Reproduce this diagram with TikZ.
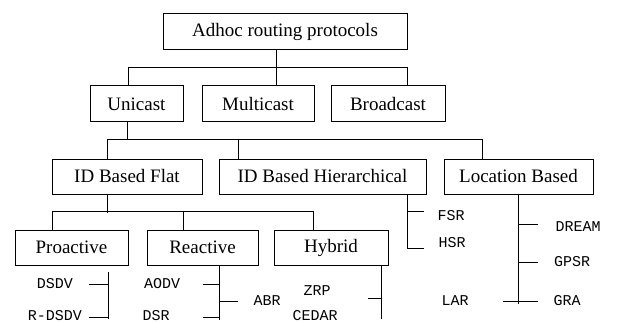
\documentclass[tikz,border=0pt]{standalone}
\usepackage{fontspec}
\setmainfont{Liberation Serif}
\newfontfamily\leaffont{Liberation Mono}
\usepackage{tikz}

\begin{document}
\begin{tikzpicture}[x=1pt, y=-1pt, line width=1pt,
    box/.style={draw, rectangle, minimum height=36pt, inner sep=0pt, font=\fontsize{19}{19}\selectfont},
    leaf/.style={inner sep=0pt, font=\leaffont\fontsize{15}{15}\selectfont}]
        \useasboundingbox (0, 0) rectangle (617, 323);
        % boxes
        \node[box, minimum width=244pt] (root) at (285, 31.5) {Adhoc routing protocols};
        \node[box, minimum width=93pt] (uni) at (136.5, 104) {Unicast};
        \node[box, minimum width=112pt] (multi) at (258, 104) {Multicast};
        \node[box, minimum width=114pt] (broad) at (388, 104) {Broadcast};
        \node[box, minimum width=150pt, minimum height=35pt] (flat) at (127, 176.5) {ID Based Flat};
        \node[box, minimum width=207pt, minimum height=35pt] (hier) at (322.5, 176.5) {ID Based Hierarchical};
        \node[box, minimum width=149pt, minimum height=35pt] (loc) at (518.5, 176.5) {Location Based};
        \node[box, minimum width=113pt, minimum height=35pt] (pro) at (71.5, 247.5) {Proactive};
        \node[box, minimum width=111pt, minimum height=35pt] (rea) at (202.5, 247.5) {Reactive};
        \node[box, minimum width=114pt, minimum height=35pt] (hyb) at (331, 247.5) {Hybrid};
        % tree
        \draw ([xshift=-9pt]root.south) -- ++(0, 18);
        \draw ([xshift=-8.5pt]uni.north) -- ++(0, -18) -| ([xshift=19pt]broad.north);
        \draw ([xshift=18pt]multi.north) -- ++(0, -18);
        \draw ([xshift=-9.5pt]uni.south) -- ++(0, 18);
        \draw ([xshift=-20pt]flat.north) -- ++(0, -19) -| ([xshift=-36.5pt]loc.north);
        \draw ([xshift=-84.5pt]hier.north) -- ++(0, -19);
        \draw ([xshift=-20pt]flat.south) -- ++(0, 18);
        \draw ([xshift=-19.5pt]pro.north) -- ++(0, -18) -| ([xshift=-18pt]hyb.north);
        \draw ([xshift=-19.5pt]rea.north) -- ++(0, -18);
        % leaves
        \node[leaf] (dsdv) at (55, 284) {DSDV};
        \node[leaf] (rdsdv) at (55, 316) {R-DSDV};
        \node[leaf] (aodv) at (162, 284) {AODV};
        \node[leaf] (dsr) at (156, 316) {DSR};
        \node[leaf] (abr) at (267, 301) {ABR};
        \node[leaf] (zrp) at (317, 291) {ZRP};
        \node[leaf] (cedar) at (315, 316) {CEDAR};
        \node[leaf] (fsr) at (451, 216) {FSR};
        \node[leaf] (hsr) at (452, 243) {HSR};
        \node[leaf] (dream) at (578, 227) {DREAM};
        \node[leaf] (gpsr) at (572, 262) {GPSR};
        \node[leaf] (gra) at (567, 301) {GRA};
        \node[leaf] (lar) at (455, 301) {LAR};
        % Proactive
        \coordinate (ps) at (108, 272);
        \draw (ps) -- ++(0, 47);
        \draw (ps |- dsdv) -- ++(-19, 0);
        \draw ([yshift=-1pt]ps |- rdsdv) -- ++(-19, 0);
        % Reactive
        \coordinate (rs) at ([xshift=16.5pt]rea.south);
        \draw (rs) -- ++(0, 54);
        \draw (rs |- aodv) -- ++(-16, 0);
        \draw ([yshift=-1pt]rs |- dsr) -- ++(-16, 0);
        \draw (rs |- abr) -- ++(19, 0);
        % Hybrid
        \coordinate (hs) at ([xshift=50pt]hyb.south);
        \draw (hs) -- ++(0, 53);
        \draw ([yshift=-7pt]hs |- zrp) -- ++(-13, 0);
        \draw ([yshift=-7pt]hs |- cedar) -- ++(-13, 0);
        % Hierarchical
        \coordinate (is) at ([xshift=84.5pt]hier.south);
        \draw (is) -- ++(0, 54);
        \draw ([yshift=5pt]is |- fsr) -- ++(17, 0);
        \draw ([yshift=-5pt]is |- hsr) -- ++(17, 0);
        % Location
        \draw (loc.south) -- ++(0, 109);
        \draw ([yshift=3pt]loc.south |- dream) -- ++(19, 0);
        \draw (loc.south |- gpsr) -- ++(19, 0);
        \draw (loc.south |- gra) -- ++(19, 0);
        \draw (loc.south |- gra) -- ++(-16, 0);
\end{tikzpicture}
\end{document}
